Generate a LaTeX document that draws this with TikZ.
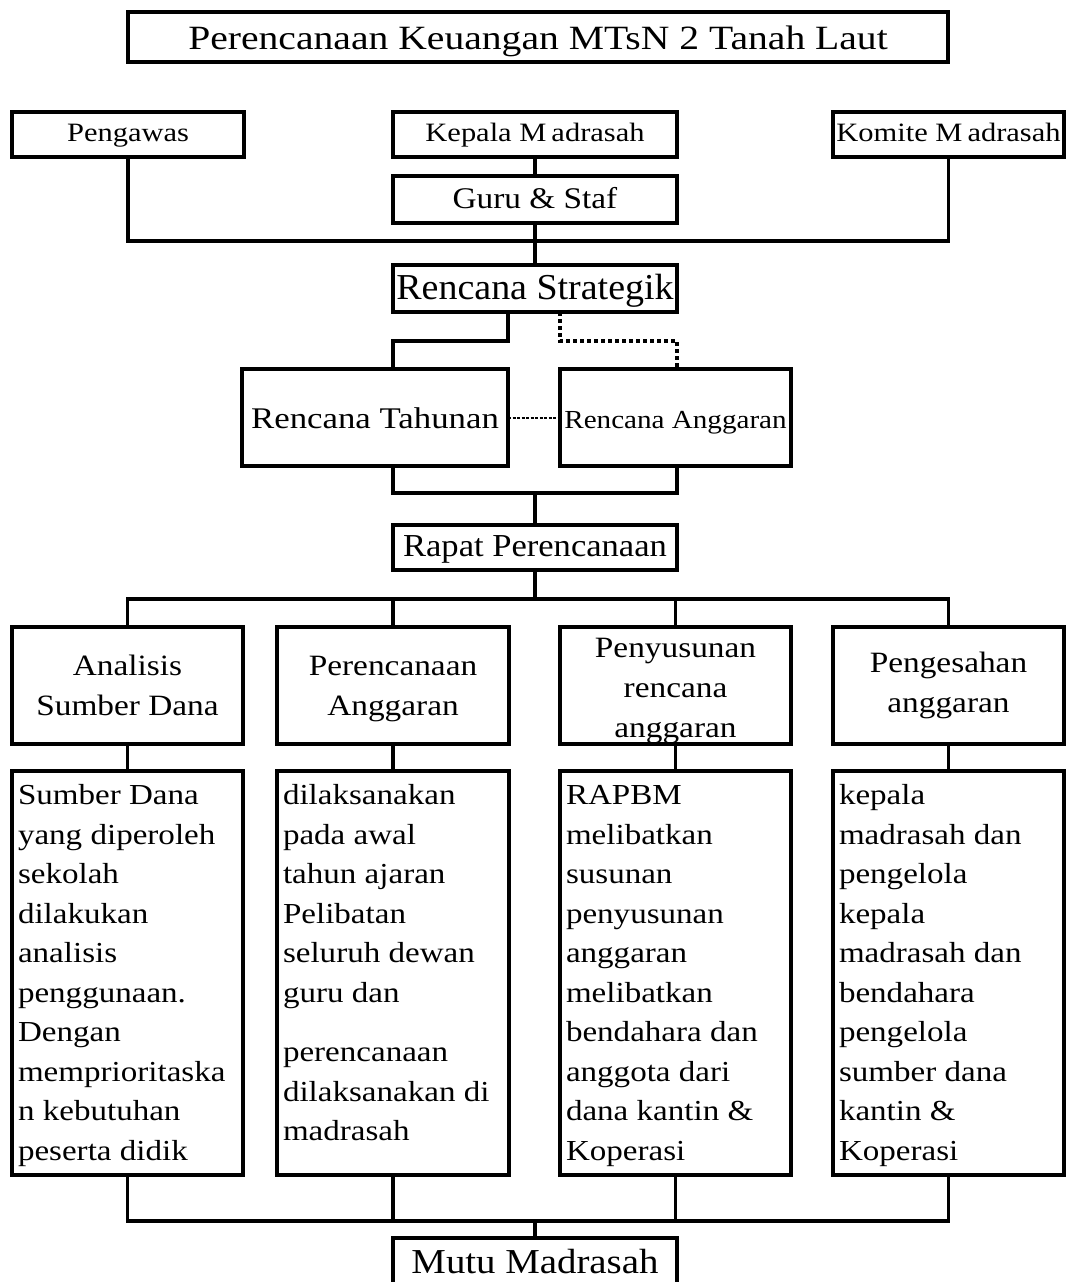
\documentclass[tikz,border=0pt]{standalone}
\usepackage{fontspec}
\setmainfont{Liberation Serif}
\newcommand\ff[3]{\fontspec{Liberation Serif}[FakeStretch=#2]\fontsize{#1pt}{#3pt}\selectfont}
\newcommand\bodytext[2]{\parbox[c][392pt][t]{#1}{\ff{29}{1.14}{39.5}\raggedright\strut #2}}
\begin{document}
\begin{tikzpicture}[x=1pt,y=-1pt,
  box/.style={draw, line width=3.4pt, inner sep=0pt, outer sep=0pt, align=center},
  one/.style={box, text height=#1, text depth=0pt},
  conn/.style={line width=3.4pt},
  dots/.style={line width=3.4pt, dash pattern=on 3.5pt off 3.5pt},
  finedots/.style={line width=2pt, dash pattern=on 3pt off 1.5pt},
  head/.style={box, minimum height=117pt, font=\ff{29.5}{1.13}{40}},
  bodybox/.style={box, inner sep=6pt, anchor=center}
]
\useasboundingbox (0,0) rectangle (1069,1282);

% title
\node[one=24.6pt, minimum width=820pt, minimum height=50pt, font=\ff{34}{1.165}{40}] (title) at (538,37) {Perencanaan Keuangan MTsN 2 Tanah Laut};

% top row
\node[one=13.6pt, minimum width=232pt, minimum height=45pt, font=\ff{26.5}{1.15}{30}] (peng) at (128,134.5) {Pengawas};
\node[one=14pt, minimum width=284pt, minimum height=45pt, font=\ff{26.5}{1.15}{30}] (kep) at (535,134.5) {Kepala M\kern5pt adrasah};
\node[one=14pt, minimum width=231pt, minimum height=45pt, font=\ff{26.5}{1.15}{30}] (kom) at (948.5,134.5) {Komite M\kern5pt adrasah};
\node[one=17pt, minimum width=284pt, minimum height=47pt, font=\ff{30}{1.11}{34}] (guru) at (535,199.5) {Guru \& Staf};

\node[one=21.6pt, minimum width=284pt, minimum height=47pt, font=\ff{36.5}{1.04}{40}] (strat) at (535,288.5) {Rencana Strategik};

\node[one=21.6pt, minimum width=266pt, minimum height=97pt, font=\ff{30}{1.16}{34}] (tah) at (375,417.5) {Rencana Tahunan};
\node[one=21pt, minimum width=231pt, minimum height=97pt, font=\ff{26}{1.12}{30}] (ang) at (675.5,417.5) {Rencana Anggaran};

\node[one=18.4pt, minimum width=284pt, minimum height=45pt, font=\ff{32}{1.08}{36}] (rap) at (535,547.5) {Rapat Perencanaan};

% headers
\node[head, minimum width=231pt] (h1) at (127.5,685.5) {Analisis\\Sumber Dana};
\node[head, minimum width=232pt] (h2) at (393,685.5) {\rule{0pt}{26pt}Perencanaan\\Anggaran};
\node[head, minimum width=231pt] (h3) at (675.5,685.5) {\rule{0pt}{30pt}Penyusunan\\rencana\\anggaran};
\node[head, minimum width=231pt] (h4) at (948.5,685.5) {Pengesahan\\anggaran};

% bodies
\node[bodybox] (b1) at (127.5,973) {\bodytext{219pt}{Sumber Dana\\yang diperoleh\\sekolah\\dilakukan\\analisis\\penggunaan.\\Dengan\\memprioritaska\\n kebutuhan\\peserta didik}};
\node[bodybox] (b2) at (393,973) {\bodytext{220pt}{dilaksanakan\\pada awal\\tahun ajaran\\Pelibatan\\seluruh dewan\\guru dan\\[20pt]perencanaan\\dilaksanakan di\\madrasah}};
\node[bodybox] (b3) at (675.5,973) {\bodytext{219pt}{RAPBM\\melibatkan\\susunan\\penyusunan\\anggaran\\melibatkan\\bendahara dan\\anggota dari\\dana kantin \&\\Koperasi}};
\node[bodybox] (b4) at (948.5,973) {\bodytext{219pt}{kepala\\madrasah dan\\pengelola\\kepala\\madrasah dan\\bendahara\\pengelola\\sumber dana\\kantin \&\\Koperasi}};

\node[one=20pt, minimum width=284pt, minimum height=50pt, font=\ff{35}{1.11}{40}] (mutu) at (535,1263) {Mutu Madrasah};

% junctions
\coordinate (j1) at (535,241);
\coordinate (j2) at (535,493);
\coordinate (j3) at (535,599);
\coordinate (j4) at (535,1221);

% connectors
\draw[conn] (peng.south) |- (j1) -| (kom.south);
\draw[conn] (kep.south) -- (guru.north);
\draw[conn] (guru.south) -- (strat.north);
\draw[conn] (strat.south -| tah.east) -- ++(0,29) -| (tah.north -| rap.west);
\draw[dots] (strat.south -| ang.west) -- ++(0,29) -| (ang.north -| strat.east);
\draw[finedots] (tah.east) -- (ang.west);
\draw[conn] (tah.south -| rap.west) |- (j2) -| (ang.south -| rap.east);
\draw[conn] (j2) -- (rap.north);
\draw[conn] (rap.south) -- (j3);
\draw[conn] (h1.north) |- (j3) -| (h4.north);
\draw[conn] (h2.north) -- (h2.north |- j3);
\draw[conn] (h3.north) -- (h3.north |- j3);
\draw[conn] (h1.south) -- (b1.north);
\draw[conn] (h2.south) -- (b2.north);
\draw[conn] (h3.south) -- (b3.north);
\draw[conn] (h4.south) -- (b4.north);
\draw[conn] (b1.south) |- (j4) -| (b4.south);
\draw[conn] (b2.south) -- (b2.south |- j4);
\draw[conn] (b3.south) -- (b3.south |- j4);
\draw[conn] (j4) -- (mutu.north);
\end{tikzpicture}
\end{document}
